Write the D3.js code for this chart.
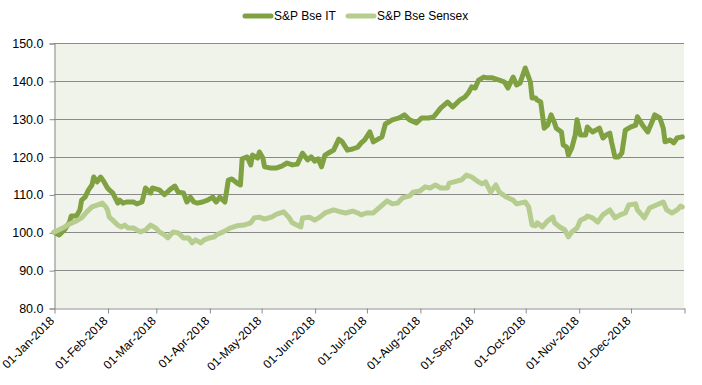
<!DOCTYPE html>
<html>
<head>
<meta charset="utf-8">
<script src="https://cdn.jsdelivr.net/npm/d3@7"></script>
<style>
  html, body { margin: 0; padding: 0; background: #ffffff; }
  svg { display: block; font-family: "Liberation Sans", Arial, sans-serif; }
</style>
</head>
<body>
<svg id="chart" width="702" height="385"></svg>
<script>
// ---------- DATA ----------
const seriesNames = ["S&P Bse IT", "S&P Bse Sensex"];

const itDates = ["2018-01-01","2018-01-04","2018-01-07","2018-01-10","2018-01-11","2018-01-14","2018-01-16","2018-01-17","2018-01-19","2018-01-21",
"2018-01-23","2018-01-24","2018-01-26","2018-01-28","2018-01-30","2018-02-01","2018-02-02","2018-02-04","2018-02-07","2018-02-08",
"2018-02-10","2018-02-12","2018-02-16","2018-02-18","2018-02-21","2018-02-23","2018-02-26","2018-02-27","2018-03-03","2018-03-06",
"2018-03-09","2018-03-12","2018-03-14","2018-03-17","2018-03-19","2018-03-21","2018-03-23","2018-03-25","2018-03-28","2018-03-31",
"2018-04-03","2018-04-04","2018-04-05","2018-04-07","2018-04-10","2018-04-12","2018-04-14","2018-04-17","2018-04-19","2018-04-20",
"2018-04-23","2018-04-25","2018-04-26","2018-04-29","2018-04-30","2018-05-02","2018-05-03","2018-05-06","2018-05-10","2018-05-13",
"2018-05-16","2018-05-19","2018-05-22","2018-05-25","2018-05-28","2018-05-30","2018-06-01","2018-06-03","2018-06-05","2018-06-07",
"2018-06-10","2018-06-12","2018-06-15","2018-06-17","2018-06-20","2018-06-23","2018-06-26","2018-06-28","2018-06-30","2018-07-03",
"2018-07-05","2018-07-10","2018-07-12","2018-07-16","2018-07-20","2018-07-23","2018-07-26","2018-07-30","2018-08-02","2018-08-06",
"2018-08-09","2018-08-13","2018-08-17","2018-08-20","2018-08-24","2018-08-27","2018-08-29","2018-08-31","2018-09-02","2018-09-04",
"2018-09-07","2018-09-09","2018-09-12","2018-09-16","2018-09-19","2018-09-21","2018-09-24","2018-09-26","2018-09-28","2018-10-01",
"2018-10-04","2018-10-05","2018-10-07","2018-10-08","2018-10-10","2018-10-11","2018-10-12","2018-10-14","2018-10-16","2018-10-18",
"2018-10-19","2018-10-22","2018-10-23","2018-10-25","2018-10-26","2018-10-28","2018-10-30","2018-10-31","2018-11-02","2018-11-05",
"2018-11-06","2018-11-09","2018-11-13","2018-11-15","2018-11-17","2018-11-19","2018-11-20","2018-11-22","2018-11-24","2018-11-26",
"2018-11-28","2018-12-01","2018-12-04","2018-12-05","2018-12-08","2018-12-11","2018-12-14","2018-12-15","2018-12-18","2018-12-20",
"2018-12-21","2018-12-24","2018-12-26","2018-12-28","2018-12-31"];

const itValues = [100.0,99.3,100.6,102.7,104.3,104.3,105.9,108.5,109.3,111.2,
112.5,114.6,113.3,114.6,113.3,111.7,111.2,110.4,107.7,108.5,
107.7,108.0,108.0,107.5,108.0,111.7,110.4,111.7,111.2,109.9,
111.2,112.2,110.6,110.4,108.0,109.3,108.0,107.7,108.0,108.5,
109.3,108.5,108.0,109.3,108.0,113.8,114.1,113.0,112.5,119.4,
119.9,117.8,120.4,119.6,121.2,119.6,117.3,117.0,117.0,117.5,
118.3,117.8,118.0,120.9,119.1,119.9,118.8,119.4,117.3,120.4,
121.2,121.7,124.6,123.9,121.7,122.0,122.5,123.6,124.4,126.5,
123.9,125.2,128.6,129.7,130.2,131.0,129.7,128.9,130.2,130.2,
130.5,132.8,134.4,133.1,134.9,135.7,136.8,138.4,138.1,140.2,
141.0,140.8,140.8,140.2,139.7,138.1,141.0,138.9,139.4,143.4,
139.7,135.5,135.5,134.9,134.4,131.0,127.5,128.3,131.0,128.9,
127.5,126.5,123.1,122.5,120.4,122.3,125.7,129.7,125.7,125.7,
127.8,126.5,127.5,124.9,125.7,126.2,123.9,119.9,119.9,120.9,
127.0,127.8,128.3,130.5,128.3,126.5,129.7,131.0,130.2,127.5,
123.9,124.4,123.6,124.9,125.2];

const sensexDates = ["2018-01-01","2018-01-06","2018-01-10","2018-01-14","2018-01-17","2018-01-20","2018-01-23","2018-01-26","2018-01-29","2018-01-31",
"2018-02-01","2018-02-02","2018-02-04","2018-02-07","2018-02-09","2018-02-11","2018-02-13","2018-02-16","2018-02-17","2018-02-20",
"2018-02-23","2018-02-26","2018-03-01","2018-03-03","2018-03-06","2018-03-08","2018-03-11","2018-03-14","2018-03-17","2018-03-20",
"2018-03-22","2018-03-24","2018-03-27","2018-03-29","2018-04-01","2018-04-04","2018-04-05","2018-04-09","2018-04-13","2018-04-17",
"2018-04-21","2018-04-25","2018-04-27","2018-04-30","2018-05-03","2018-05-07","2018-05-10","2018-05-14","2018-05-17","2018-05-19",
"2018-05-24","2018-05-25","2018-05-29","2018-06-01","2018-06-04","2018-06-07","2018-06-12","2018-06-16","2018-06-19","2018-06-23",
"2018-06-26","2018-06-28","2018-07-01","2018-07-05","2018-07-09","2018-07-13","2018-07-16","2018-07-19","2018-07-22","2018-07-26",
"2018-07-28","2018-08-01","2018-08-04","2018-08-07","2018-08-10","2018-08-13","2018-08-17","2018-08-18","2018-08-23","2018-08-25",
"2018-08-28","2018-08-31","2018-09-03","2018-09-06","2018-09-08","2018-09-11","2018-09-14","2018-09-16","2018-09-20","2018-09-24",
"2018-09-26","2018-09-28","2018-10-01","2018-10-03","2018-10-05","2018-10-07","2018-10-08","2018-10-11","2018-10-14","2018-10-17",
"2018-10-18","2018-10-21","2018-10-24","2018-10-26","2018-10-28","2018-10-31","2018-11-02","2018-11-05","2018-11-06","2018-11-09",
"2018-11-12","2018-11-15","2018-11-19","2018-11-22","2018-11-25","2018-11-28","2018-11-30","2018-12-04","2018-12-05","2018-12-09",
"2018-12-12","2018-12-16","2018-12-20","2018-12-22","2018-12-25","2018-12-28","2018-12-30","2018-12-31"];

const sensexValues = [100.0,101.1,102.2,103.0,103.8,105.4,106.7,107.2,107.7,106.7,
105.9,104.0,103.2,101.9,101.4,101.9,101.1,101.1,100.9,100.1,
100.6,101.9,101.1,100.1,99.3,98.5,100.1,99.8,98.5,98.5,
97.2,98.0,97.2,98.0,98.5,98.8,99.3,100.1,101.1,101.7,
101.9,102.5,103.8,104.0,103.5,104.0,104.8,105.4,104.0,102.5,
101.4,103.8,104.0,103.2,104.0,105.1,105.9,105.4,105.1,105.6,
105.1,104.6,105.1,105.1,106.7,108.3,107.5,107.7,109.1,109.6,
110.6,110.9,112.0,111.7,112.5,111.7,111.7,113.0,113.6,113.8,
115.1,114.6,113.6,112.8,113.3,110.6,112.5,110.6,109.3,108.5,
107.5,107.7,108.0,106.7,101.9,101.7,102.5,101.4,103.0,104.0,
102.5,101.4,100.6,98.8,100.1,101.1,103.2,103.8,104.3,103.8,
102.7,104.6,105.9,103.8,104.6,105.1,107.2,107.5,105.9,103.8,
106.4,107.2,108.0,105.9,105.1,105.9,106.9,106.7];

const yTicks = [80, 90, 100, 110, 120, 130, 140, 150];
const xTickDates = ["2018-01-01","2018-02-01","2018-03-01","2018-04-01","2018-05-01","2018-06-01",
  "2018-07-01","2018-08-01","2018-09-01","2018-10-01","2018-11-01","2018-12-01","2019-01-01"];
const xTickLabels = ["01-Jan-2018","01-Feb-2018","01-Mar-2018","01-Apr-2018","01-May-2018","01-Jun-2018",
  "01-Jul-2018","01-Aug-2018","01-Sep-2018","01-Oct-2018","01-Nov-2018","01-Dec-2018",""];

// ---------- CHART ----------
const parse = d3.utcParse("%Y-%m-%d");
const svg = d3.select("#chart");
const m = { left: 54, right: 684, top: 43, bottom: 308 };
const colors = ["#7fa142", "#b6cd8f"];

const x = d3.scaleUtc()
  .domain([parse("2018-01-01"), parse("2019-01-01")])
  .range([m.left, m.right]);
const y = d3.scaleLinear().domain([80, 150]).range([m.bottom, m.top]);

// plot background
svg.append("rect")
  .attr("x", m.left).attr("y", m.top)
  .attr("width", m.right - m.left).attr("height", m.bottom - m.top)
  .attr("fill", "#f0f3ea");

// gridlines
svg.append("g").selectAll("line").data(yTicks.filter(t => t > 80)).join("line")
  .attr("x1", m.left).attr("x2", m.right)
  .attr("y1", d => Math.round(y(d)) + 0.5).attr("y2", d => Math.round(y(d)) + 0.5)
  .attr("stroke", "#8a8a8a").attr("stroke-width", 1);

// y axis
const yAxis = d3.axisLeft(y).tickValues(yTicks).tickFormat(d3.format(".1f")).tickSize(5).tickPadding(6);
const gy = svg.append("g").attr("transform", `translate(${m.left + 0.5},0.5)`).call(yAxis);
gy.select(".domain").attr("stroke", "#8a8a8a");
gy.selectAll(".tick line").attr("stroke", "#8a8a8a");
gy.selectAll("text").attr("font-size", 12.5).attr("fill", "#000")
  .attr("font-family", "'Liberation Sans', Arial, sans-serif");

// x axis
const xTickVals = xTickDates.map(parse);
const xAxis = d3.axisBottom(x).tickValues(xTickVals)
  .tickFormat((d, i) => xTickLabels[i]).tickSize(5).tickSizeOuter(0);
const gx = svg.append("g").attr("transform", `translate(0.5,${m.bottom + 0.5})`).call(xAxis);
gx.select(".domain").attr("stroke", "#8a8a8a");
gx.selectAll(".tick line").attr("stroke", "#8a8a8a");
gx.selectAll("text")
  .attr("font-size", 12).attr("fill", "#000")
  .attr("font-family", "'Liberation Sans', Arial, sans-serif")
  .attr("text-anchor", "end")
  .attr("dy", null).attr("y", 0)
  .attr("transform", "translate(0,13) rotate(-45)");

// lines
const line = d3.line().x(d => x(d.date)).y(d => y(d.value));
const itData = itDates.map((d, i) => ({ date: parse(d), value: itValues[i] }));
const sxData = sensexDates.map((d, i) => ({ date: parse(d), value: sensexValues[i] }));

[itData, sxData].forEach((data, i) => {
  svg.append("path").datum(data)
    .attr("d", line)
    .attr("fill", "none")
    .attr("stroke", colors[i])
    .attr("stroke-width", 5)
    .attr("stroke-linejoin", "round")
    .attr("stroke-linecap", "round");
});

// legend
const legendItems = [{ x: 243, label: seriesNames[0], c: colors[0] }, { x: 346, label: seriesNames[1], c: colors[1] }];
const lg = svg.append("g");
legendItems.forEach(it => {
  lg.append("line").attr("x1", it.x + 2).attr("x2", it.x + 28).attr("y1", 16).attr("y2", 16)
    .attr("stroke", it.c).attr("stroke-width", 5).attr("stroke-linecap", "round");
  lg.append("text").attr("x", it.x + 31).attr("y", 20).text(it.label)
    .attr("font-size", 12).attr("fill", "#000");
});
</script>
</body>
</html>
